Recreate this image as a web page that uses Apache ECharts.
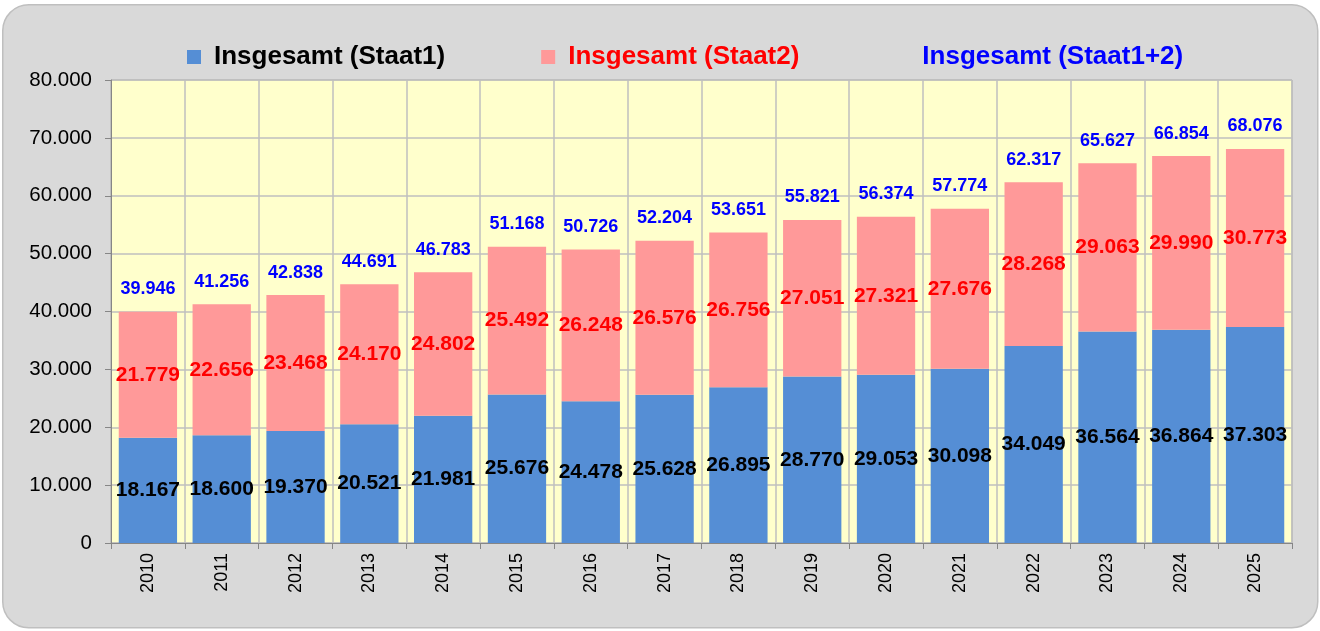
<!DOCTYPE html>
<html>
    <head>
        <meta charset='utf-8'>
        <title>Insgesamt</title>
        <script src='https://cdn.jsdelivr.net/npm/echarts@6/dist/echarts.min.js'></script>
        <style>
            body { margin: 0; background: #fff; }
        </style>
    </head>

    <body>
    <div id='main' style='width: 1320px;height:631px;'></div>

    <script type='text/javascript'>
    // Jahre und Werte
    var years = ['2010', '2011', '2012', '2013', '2014', '2015', '2016', '2017',
                 '2018', '2019', '2020', '2021', '2022', '2023', '2024', '2025'];
    var staat1 = [18167, 18600, 19370, 20521, 21981, 25676, 24478, 25628,
                  26895, 28770, 29053, 30098, 34049, 36564, 36864, 37303];
    var staat2 = [21779, 22656, 23468, 24170, 24802, 25492, 26248, 26576,
                  26756, 27051, 27321, 27676, 28268, 29063, 29990, 30773];
    var gesamt = staat1.map(function (v, i) { return v + staat2[i]; });

    function fmt(v) {
        return String(v).replace(/\B(?=(\d{3})+(?!\d))/g, '.');
    }

    var myChart = echarts.init(document.getElementById('main'));
    var font = 'Liberation Sans, Arial, sans-serif';

    option = {
        animation: false,
        textStyle: { fontFamily: font },
        graphic: [{
            type: 'rect',
            left: 2,
            top: 4,
            z: -10,
            silent: true,
            shape: { width: 1315, height: 623, r: 26 },
            style: { fill: '#D9D9D9', stroke: '#BFBFBF', lineWidth: 1.5 }
        }],
        legend: {
            left: 182,
            top: 39,
            itemWidth: 14,
            itemHeight: 14,
            itemGap: 96,
            selectedMode: false,
            textStyle: { fontSize: 26, fontWeight: 'bold', fontFamily: font, padding: [0, 0, 0, 8] },
            data: [
                { name: 'Insgesamt (Staat1)', icon: 'rect', textStyle: { color: '#000' } },
                { name: 'Insgesamt (Staat2)', icon: 'rect', textStyle: { color: '#FF0000' } },
                { name: 'Insgesamt (Staat1+2)', icon: 'none', textStyle: { color: '#0000FF' } }
            ]
        },
        grid: {
            left: 111,
            right: 28,
            top: 80,
            bottom: 88,
            show: true,
            backgroundColor: '#FFFFCC',
            borderColor: '#A6A6A6',
            borderWidth: 1
        },
        xAxis: {
            type: 'category',
            data: years,
            axisLine: { lineStyle: { color: '#868686' } },
            axisTick: { show: true, length: 6, lineStyle: { color: '#868686' } },
            splitLine: { show: true, lineStyle: { color: '#BFBFBF', width: 1.5 } },
            axisLabel: { rotate: 90, fontSize: 18, color: '#000', margin: 10, fontFamily: font }
        },
        yAxis: {
            type: 'value',
            min: 0,
            max: 80000,
            interval: 10000,
            axisLine: { show: true, lineStyle: { color: '#868686' } },
            axisTick: { show: true, length: 6, lineStyle: { color: '#868686' } },
            splitLine: { lineStyle: { color: '#BFBFBF', width: 1.5 } },
            axisLabel: {
                fontSize: 20.5, color: '#000', margin: 19, fontFamily: font,
                formatter: function (v) { return fmt(v); }
            }
        },
        series: [
            {
                name: 'Insgesamt (Staat1)',
                type: 'bar',
                stack: 'a',
                data: staat1,
                barCategoryGap: '21%',
                itemStyle: { color: '#558ED5' },
                label: {
                    show: true, position: 'inside', color: '#000',
                    fontSize: 21, fontWeight: 'bold', fontFamily: font,
                    formatter: function (p) { return fmt(p.value); }
                }
            },
            {
                name: 'Insgesamt (Staat2)',
                type: 'bar',
                stack: 'a',
                data: staat2,
                itemStyle: { color: '#FF9999' },
                label: {
                    show: true, position: 'inside', color: '#FF0000',
                    fontSize: 21, fontWeight: 'bold', fontFamily: font,
                    formatter: function (p) { return fmt(p.value); }
                }
            },
            {
                name: 'Insgesamt (Staat1+2)',
                type: 'line',
                data: gesamt,
                symbol: 'circle',
                symbolSize: 1,
                itemStyle: { color: 'rgba(0,0,0,0)' },
                lineStyle: { opacity: 0 },
                label: {
                    show: true, position: 'top', distance: 13, color: '#0000FF',
                    fontSize: 18, fontWeight: 'bold', fontFamily: font,
                    formatter: function (p) { return fmt(p.value); }
                }
            }
        ]
    };

    myChart.setOption(option);
    </script>
    </body>
</html>
